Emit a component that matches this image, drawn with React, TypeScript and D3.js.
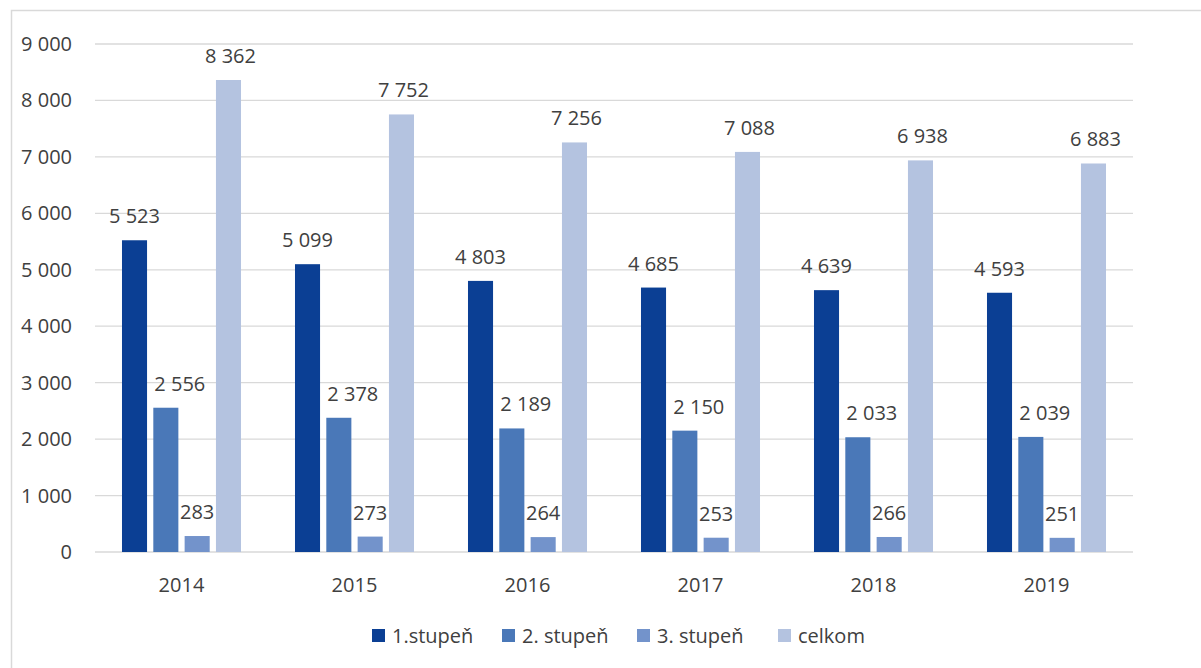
import React from "react";
import * as d3 from "d3";

const years = ["2014", "2015", "2016", "2017", "2018", "2019"];
const seriesNames = ["1.stupeň", "2. stupeň", "3. stupeň", "celkom"];
const stupen1 = [5523, 5099, 4803, 4685, 4639, 4593];
const stupen2 = [2556, 2378, 2189, 2150, 2033, 2039];
const stupen3 = [283, 273, 264, 253, 266, 251];
const celkom = [8362, 7752, 7256, 7088, 6938, 6883];
const yTicks = [0, 1000, 2000, 3000, 4000, 5000, 6000, 7000, 8000, 9000];

const seriesValues = [stupen1, stupen2, stupen3, celkom];
const colors = ["#0b3f94", "#4a78b8", "#7393cb", "#b4c3e0"];
const labelDx = [0, 14, 0, 2];

const W = 1201;
const H = 668;
const FONT = "'Open Sans', 'Segoe UI', sans-serif";

const fmt = (v: number) => {
  const s = String(v);
  return s.length > 3 ? s.slice(0, s.length - 3) + " " + s.slice(-3) : s;
};

export default function App() {
  const x0 = d3.scaleBand<string>().domain(years).range([95, 1133]).paddingInner(0.312).paddingOuter(0.156);
  const x1 = d3.scaleBand<string>().domain(seriesNames).range([0, x0.bandwidth()]).paddingInner(0.2);
  const y = d3.scaleLinear().domain([0, 9000]).range([552, 44]);

  const legendX = [372, 502, 637, 778];

  return (
    <svg width={W} height={H} style={{ position: "absolute", left: 0, top: 0, background: "#fff" }} fontFamily={FONT}>
      <rect x={11.5} y={10.5} width={W + 20} height={H + 20} fill="#fff" stroke="#d9d9d9" strokeWidth={1.5} />
      {yTicks.map((t) => (
        <g key={t}>
          <line x1={95} x2={1133} y1={y(t)} y2={y(t)} stroke="#d9d9d9" strokeWidth={1.3} />
          <text x={72} y={y(t)} dy="0.35em" textAnchor="end" fontSize={20} fill="#404040">
            {fmt(t)}
          </text>
        </g>
      ))}
      {years.map((yr, i) => (
        <g key={yr} transform={`translate(${x0(yr)},0)`}>
          {seriesNames.map((s, j) => {
            const v = seriesValues[j][i];
            const bx = x1(s) as number;
            return (
              <g key={s}>
                <rect x={bx} y={y(v)} width={x1.bandwidth()} height={y(0) - y(v)} fill={colors[j]} />
                <text
                  x={bx + x1.bandwidth() / 2 + labelDx[j]}
                  y={y(v) - 17}
                  textAnchor="middle"
                  fontSize={20}
                  fill="#404040"
                >
                  {fmt(v)}
                </text>
              </g>
            );
          })}
          <text x={x0.bandwidth() / 2} y={592} textAnchor="middle" fontSize={20} fill="#404040">
            {yr}
          </text>
        </g>
      ))}
      {seriesNames.map((s, j) => (
        <g key={s}>
          <rect x={legendX[j]} y={629} width={13} height={13} fill={colors[j]} />
          <text x={legendX[j] + 20} y={636} dy="0.35em" fontSize={20} fill="#404040">
            {s}
          </text>
        </g>
      ))}
    </svg>
  );
}
